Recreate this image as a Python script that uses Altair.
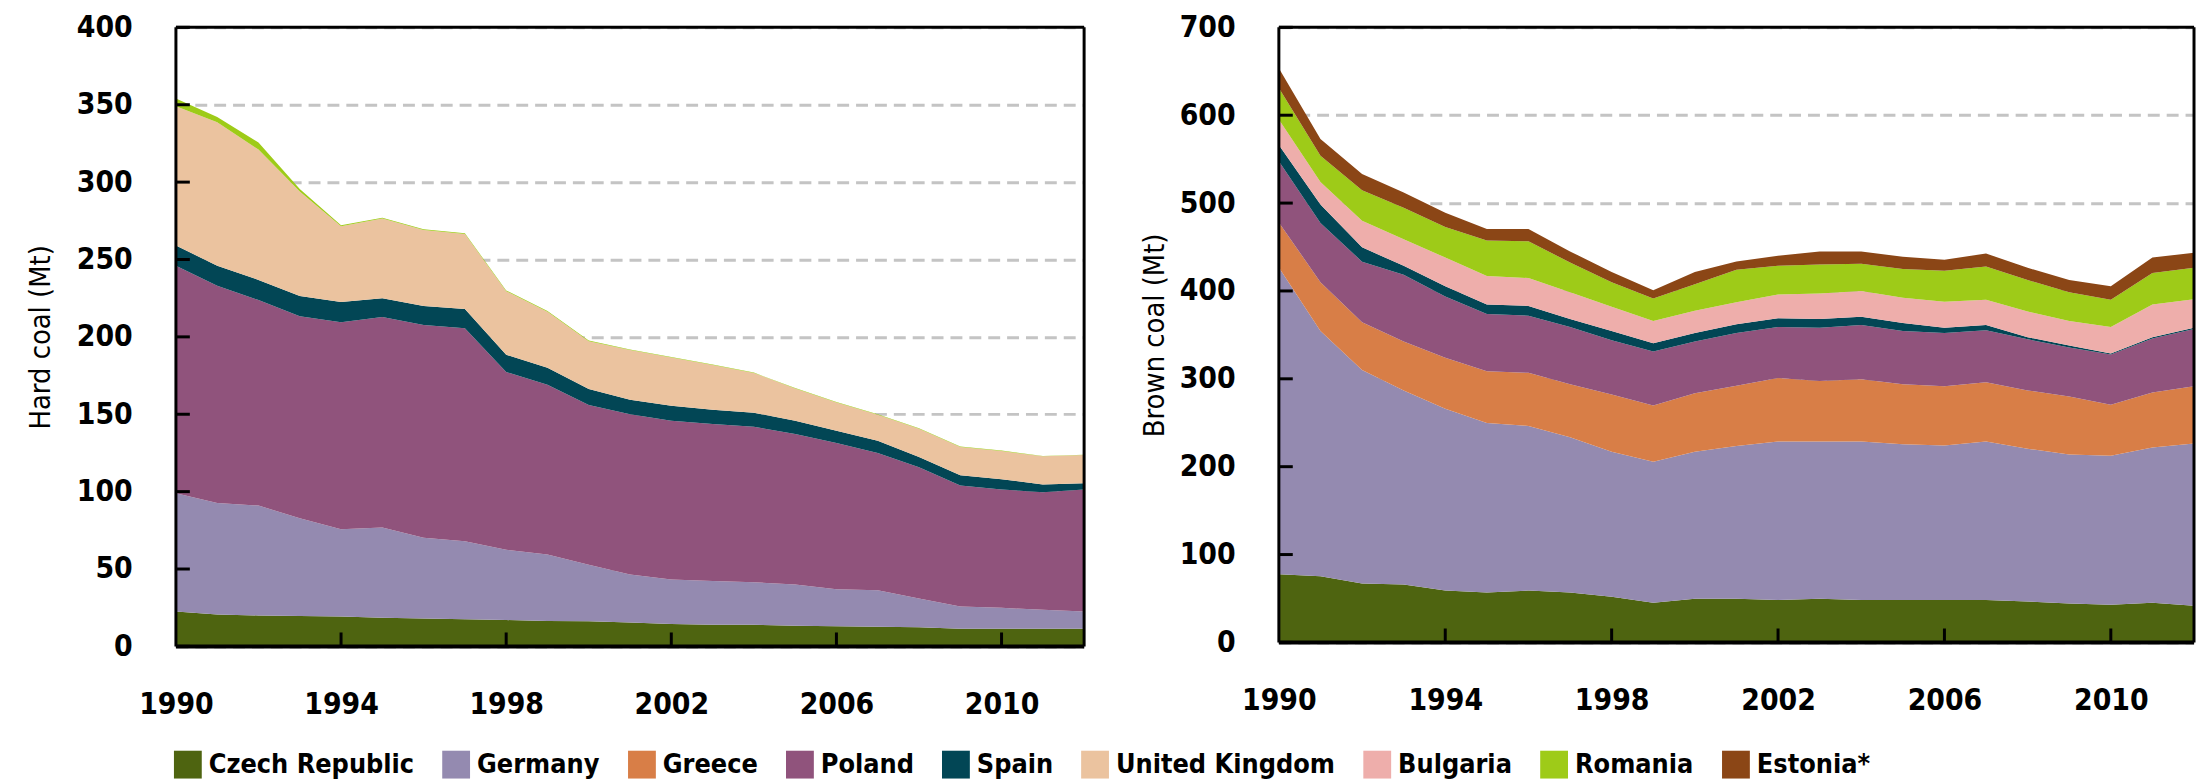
import altair as alt
import pandas as pd

years = list(range(1990, 2013))
countries = ["Czech Republic", "Germany", "Greece", "Poland", "Spain",
             "United Kingdom", "Bulgaria", "Romania", "Estonia*"]
colors = ["#4E6410", "#948AB0", "#D87E47", "#90537C", "#024655",
          "#EBC39F", "#EEAEAB", "#9ECB18", "#8B4616"]

# Hard coal production (Mt)
hard_czech = [22.5, 20.6, 20.0, 19.6, 19.3, 18.5, 18.0, 17.5, 17.0, 16.4, 16.2, 15.5,
              14.5, 14.0, 14.0, 13.4, 13.0, 12.7, 12.4, 11.4, 11.4, 11.4, 11.4]
hard_germany = [76.5, 72.1, 71.0, 63.2, 56.4, 58.3, 52.2, 50.4, 45.4, 42.9, 36.5, 31.0,
                28.7, 28.2, 27.4, 26.6, 23.9, 23.5, 18.5, 14.3, 13.5, 12.2, 11.2]
hard_poland = [147.0, 140.3, 132.8, 130.5, 133.7, 136.0, 137.4, 137.6, 114.9, 109.7, 103.2, 103.5,
               102.6, 101.5, 100.5, 97.2, 94.6, 88.7, 84.9, 78.3, 76.5, 76.0, 78.8]
hard_spain = [13.0, 13.0, 13.0, 13.1, 13.1, 12.2, 12.4, 12.5, 11.2, 11.0, 10.4, 9.3,
              9.7, 9.2, 9.1, 8.6, 7.8, 7.9, 6.5, 6.6, 6.6, 5.0, 4.0]
hard_uk = [90.0, 92.6, 84.2, 67.6, 49.0, 51.5, 49.0, 48.5, 41.0, 36.3, 30.9, 32.2,
           31.1, 29.0, 25.6, 20.9, 18.3, 16.9, 18.3, 18.3, 18.2, 18.2, 18.2]
hard_romania = [5.0, 3.4, 4.6, 1.6, 0.6, 0.5, 0.5, 0.5, 0.5, 0.4, 0.4, 0.4,
                0.4, 0.3, 0.3, 0.3, 0.3, 0.3, 0.3, 0.3, 0.3, 0.3, 0.3]

# Brown coal production (Mt)
brown_czech = [77.6, 75.3, 67.0, 66.0, 59.0, 56.7, 59.0, 56.7, 52.0, 45.0, 49.7, 49.7,
               48.3, 49.7, 48.3, 48.3, 48.3, 48.3, 46.5, 44.2, 42.8, 45.0, 41.8]
brown_germany = [349.0, 279.0, 243.0, 220.8, 207.0, 192.9, 187.4, 176.7, 165.1, 160.5, 167.4, 173.9,
                 180.4, 179.0, 180.4, 177.2, 175.7, 180.4, 173.9, 169.7, 169.7, 176.8, 184.6]
brown_greece = [51.2, 55.7, 54.5, 55.8, 58.0, 59.1, 60.4, 60.4, 65.1, 64.1, 66.5, 68.4,
                72.1, 68.8, 70.7, 68.3, 67.5, 67.4, 66.4, 66.0, 58.1, 62.7, 65.1]
brown_poland = [69.7, 67.4, 68.8, 75.8, 69.8, 65.1, 65.1, 65.1, 61.8, 61.4, 59.0, 60.0,
                58.1, 60.5, 61.8, 60.5, 60.5, 59.1, 58.2, 55.8, 57.2, 61.4, 65.1]
brown_spain = [18.5, 21.0, 16.3, 10.2, 11.6, 10.7, 11.1, 9.3, 10.3, 9.4, 9.4, 10.0,
               10.1, 10.0, 9.3, 9.2, 6.0, 6.0, 2.3, 2.3, 0.9, 1.4, 1.4]
brown_bulgaria = [29.0, 25.6, 30.2, 30.3, 32.6, 32.5, 31.7, 30.2, 27.7, 25.5, 25.5, 25.2,
                  27.0, 29.0, 29.3, 28.9, 29.7, 28.8, 29.3, 27.9, 30.2, 37.2, 32.5]
brown_romania = [36.0, 30.0, 34.8, 35.8, 34.8, 40.5, 41.8, 34.0, 28.0, 25.5, 30.2, 36.8,
                 32.6, 33.0, 31.2, 32.6, 35.3, 37.7, 35.8, 32.5, 31.1, 35.8, 35.8]
brown_estonia = [22.5, 18.8, 18.4, 17.3, 16.2, 13.0, 14.0, 12.6, 11.7, 9.3, 14.0, 9.6,
                 11.4, 14.9, 13.9, 13.9, 12.6, 14.9, 13.9, 14.0, 15.4, 17.7, 17.2]

x_tick_labels = [1990, 1994, 1998, 2002, 2006, 2010]
hard_ticks = [0, 50, 100, 150, 200, 250, 300, 350, 400]
brown_ticks = [0, 100, 200, 300, 400, 500, 600, 700]

hard_series = {
    "Czech Republic": hard_czech, "Germany": hard_germany, "Poland": hard_poland,
    "Spain": hard_spain, "United Kingdom": hard_uk, "Romania": hard_romania,
}
brown_series = {
    "Czech Republic": brown_czech, "Germany": brown_germany, "Greece": brown_greece,
    "Poland": brown_poland, "Spain": brown_spain, "Bulgaria": brown_bulgaria,
    "Romania": brown_romania, "Estonia*": brown_estonia,
}


def long_df(series):
    rows = []
    for c, vals in series.items():
        for y, v in zip(years, vals):
            rows.append({"year": y, "country": c, "value": v, "ord": countries.index(c)})
    return pd.DataFrame(rows)


COND = "DejaVu Sans Condensed, DejaVu Sans, sans-serif"

legend = alt.Legend(
    title=None, orient="none", legendX=-2, legendY=728, direction="horizontal", columns=9,
    symbolType="square", symbolSize=784, symbolStrokeWidth=0, symbolOpacity=1,
    labelFont=COND, labelFontSize=27, labelFontWeight="bold", labelColor="black",
    labelOffset=7, columnPadding=28, labelLimit=0,
)


def panel(series, ymax, yticks, title, W, H, xpad, tpad):
    df = long_df(series)
    xs = alt.Scale(domain=[1990, 2012], nice=False, zero=False)
    ys = alt.Scale(domain=[0, ymax], nice=False)
    area = alt.Chart(df).mark_area(opacity=1).encode(
        x=alt.X("year:Q", scale=xs, axis=alt.Axis(
            values=x_tick_labels, format="d", title=None, tickSize=0, labelPadding=xpad,
            domain=False, grid=False, labelFont=COND, labelFontSize=30,
            labelFontWeight="bold", labelColor="black", labelFlush=False,
            labelOverlap=False)),
        y=alt.Y("value:Q", stack="zero", scale=ys, axis=alt.Axis(
            values=yticks, title=title, grid=True, gridDash=[12, 7], gridColor="#c4c4c4",
            gridWidth=3, tickSize=0, domain=False, labelPadding=44, labelFont=COND,
            labelFontSize=30, labelFontWeight="bold", labelColor="black",
            labelFlush=False, labelOverlap=False,
            titleFont=COND, titleFontSize=29, titleFontWeight="normal", titleColor="black",
            titlePadding=tpad)),
        color=alt.Color("country:N", scale=alt.Scale(domain=countries, range=colors),
                        legend=legend),
        order=alt.Order("ord:Q"),
    )
    yt = alt.Chart(pd.DataFrame({"value": yticks})).mark_rule(
        color="black", strokeWidth=3).encode(
        y=alt.Y("value:Q", scale=ys), x=alt.value(0), x2=alt.value(14))
    xt = alt.Chart(pd.DataFrame({"year": x_tick_labels[1:]})).mark_rule(
        color="black", strokeWidth=3).encode(
        x=alt.X("year:Q", scale=xs), y=alt.value(H), y2=alt.value(H - 14))
    frame_df = pd.DataFrame({"a": [0]})
    top = alt.Chart(frame_df).mark_rule(color="black", strokeWidth=3).encode(
        x=alt.value(0), x2=alt.value(W), y=alt.value(0))
    bottom = alt.Chart(frame_df).mark_rule(color="black", strokeWidth=4).encode(
        x=alt.value(0), x2=alt.value(W), y=alt.value(H))
    left = alt.Chart(frame_df).mark_rule(color="black", strokeWidth=3).encode(
        x=alt.value(0), y=alt.value(0), y2=alt.value(H))
    right = alt.Chart(frame_df).mark_rule(color="black", strokeWidth=3).encode(
        x=alt.value(W), y=alt.value(0), y2=alt.value(H))
    return alt.layer(area, yt, xt, top, bottom, left, right).properties(width=W, height=H)


p1 = panel(hard_series, 400, hard_ticks, "Hard coal (Mt)", 914, 623, 44, 21)
p2 = panel(brown_series, 700, brown_ticks, "Brown coal (Mt)", 921, 619, 44, 10)

chart = alt.hconcat(p1, p2, spacing=54).resolve_scale(color="shared").configure_view(
    stroke=None).properties(padding={"left": 18, "top": 2, "right": 0, "bottom": 0})

chart.save("out.html", embed_options={"renderer": "svg", "actions": False})
